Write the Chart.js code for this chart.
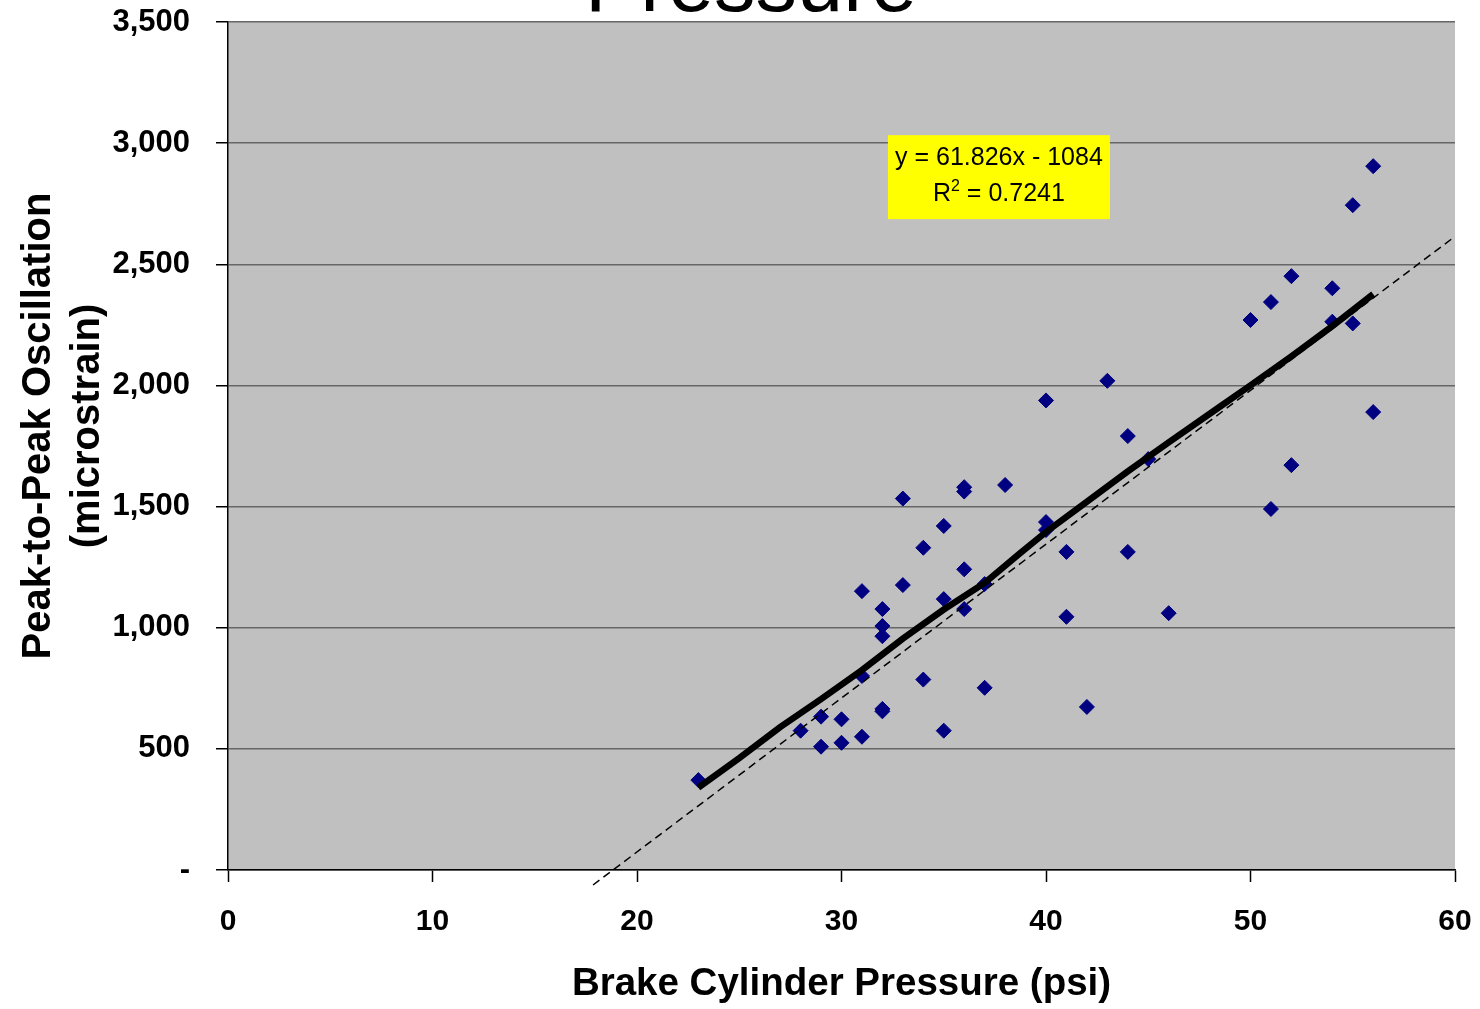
<!DOCTYPE html>
<html>
<head>
<meta charset="utf-8">
<script src="https://cdn.jsdelivr.net/npm/chart.js@4.4.1/dist/chart.umd.min.js"></script>
<style>
html, body { margin: 0; padding: 0; background: #fff; }
#wrap { width: 1480px; height: 1009px; }
</style>
</head>
<body>
<div id="wrap"><canvas id="chart"></canvas></div>
<script>
// brake cylinder pressure (psi) vs peak-to-peak oscillation (microstrain)
var pressure = [23, 28, 29, 29, 30, 30, 31, 31, 31, 32, 32, 32, 32, 32,
  33, 33, 34, 34, 35, 35, 35, 36, 36, 36, 36, 37, 37, 38, 40, 40, 40,
  41, 41, 42, 43, 44, 44, 45, 46, 50, 51, 51, 52, 52, 54, 54, 55, 55, 56, 56];
var oscillation = [371, 575, 633, 509, 622, 525, 1151, 801, 550, 1077, 1007, 965, 665, 655,
  1533, 1176, 1330, 786, 1420, 1118, 575, 1580, 1562, 1241, 1077, 1180, 752, 1589, 1938, 1436, 1403,
  1313, 1045, 673, 2019, 1791, 1313, 1696, 1060, 2270, 2344, 1490, 2451, 1671, 2401, 2263, 2744, 2256, 2905, 1890];

// thick black fitted curve
var fitX = [23, 25, 27, 29, 31, 33, 35, 37, 38.7, 40, 41.66, 44, 46, 48.5, 50, 52, 54, 56];
var fitY = [340, 462, 590, 705, 825, 955, 1075, 1185, 1305, 1395, 1499, 1645, 1765, 1912, 2000, 2120, 2245, 2377];

// dashed linear trendline
var trendX = [17.85, 60];
var trendY = [-62, 2615];

var xTicks = [0, 10, 20, 30, 40, 50, 60];
var yTicks = [0, 500, 1000, 1500, 2000, 2500, 3000, 3500];
var yTickLabels = ['-', '500', '1,000', '1,500', '2,000', '2,500', '3,000', '3,500'];

var FONT = '"Liberation Sans", Arial, sans-serif';

function toPoints(xs, ys) {
  var pts = [];
  for (var i = 0; i < xs.length; i++) {
    pts.push({ x: xs[i], y: ys[i] });
  }
  return pts;
}

var plotBackground = {
  id: 'plotBackground',
  beforeDraw: function(chart) {
    var a = chart.chartArea;
    var ctx = chart.ctx;
    ctx.save();
    ctx.fillStyle = '#C0C0C0';
    ctx.fillRect(a.left, a.top, a.right - a.left, a.bottom - a.top);
    ctx.restore();
  }
};

var extraText = {
  id: 'extraText',
  afterDraw: function(chart) {
    var ctx = chart.ctx;
    var xs = chart.scales.x, ys = chart.scales.y;
    ctx.save();

    // title, mostly cut off at the top
    ctx.fillStyle = '#000';
    ctx.font = '83px ' + FONT;
    ctx.textAlign = 'center';
    ctx.textBaseline = 'alphabetic';
    ctx.fillText('Pressure', 751, 11);

    // y axis title, two lines
    ctx.font = 'bold 40px ' + FONT;
    ctx.save();
    ctx.translate(50, 426);
    ctx.rotate(-Math.PI / 2);
    ctx.fillText('Peak-to-Peak Oscillation', 0, 0);
    ctx.restore();
    ctx.save();
    ctx.translate(98.5, 426);
    ctx.rotate(-Math.PI / 2);
    ctx.fillText('(microstrain)', 0, 0);
    ctx.restore();

    // trendline equation box
    var bx = xs.getPixelForValue(32.27), by = ys.getPixelForValue(3033);
    var bw = 222, bh = 84;
    ctx.fillStyle = '#FFFF00';
    ctx.fillRect(bx, by, bw, bh);
    ctx.fillStyle = '#000';
    ctx.font = '25px ' + FONT;
    ctx.textAlign = 'center';
    ctx.fillText('y = 61.826x - 1084', bx + bw / 2, by + 30);

    var rest = ' = ' + '0.7241';
    var wR = ctx.measureText('R').width;
    ctx.font = '16px ' + FONT;
    var w2 = ctx.measureText('2').width;
    ctx.font = '25px ' + FONT;
    var wRest = ctx.measureText(rest).width;
    var sx = bx + bw / 2 - (wR + w2 + wRest) / 2;
    ctx.textAlign = 'left';
    ctx.fillText('R', sx, by + 66);
    ctx.font = '16px ' + FONT;
    ctx.fillText('2', sx + wR, by + 56);
    ctx.font = '25px ' + FONT;
    ctx.fillText(rest, sx + wR + w2, by + 66);

    ctx.restore();
  }
};

var ctx = document.getElementById('chart').getContext('2d');
new Chart(ctx, {
  type: 'scatter',
  data: {
    datasets: [
      {
        label: 'fit',
        data: toPoints(fitX, fitY),
        showLine: true,
        borderColor: '#000',
        borderWidth: 6.5,
        pointRadius: 0,
        tension: 0,
        order: 0
      },
      {
        label: 'trend',
        data: toPoints(trendX, trendY),
        showLine: true,
        borderColor: '#000',
        borderWidth: 1.5,
        borderDash: [8, 5],
        pointRadius: 0,
        clip: false,
        order: 1
      },
      {
        label: 'measured',
        data: toPoints(pressure, oscillation),
        pointStyle: 'rectRot',
        pointRadius: 7.5,
        backgroundColor: '#000080',
        borderColor: '#000080',
        borderWidth: 1,
        order: 2
      }
    ]
  },
  options: {
    responsive: true,
    maintainAspectRatio: false,
    animation: false,
    layout: { padding: { top: 22, right: 25, left: 0, bottom: 0 } },
    plugins: {
      legend: { display: false },
      tooltip: { enabled: false }
    },
    scales: {
      x: {
        type: 'linear',
        min: 0,
        max: 60,
        afterBuildTicks: function(scale) {
          scale.ticks = xTicks.map(function(v) { return { value: v }; });
        },
        afterFit: function(scale) {
          scale.height = 139;
          scale.paddingLeft = 0;
          scale.paddingRight = 0;
        },
        border: { color: '#000', width: 1.5 },
        grid: { drawOnChartArea: false, drawTicks: true, tickLength: 12, tickColor: '#000', tickWidth: 1.5 },
        ticks: {
          padding: 22,
          color: '#000',
          font: { family: FONT, size: 30, weight: 'bold' }
        },
        title: {
          display: true,
          text: 'Brake Cylinder Pressure (psi)',
          color: '#000',
          font: { family: FONT, size: 38.5, weight: 'bold' },
          padding: { top: 0, bottom: 2 }
        }
      },
      y: {
        type: 'linear',
        min: 0,
        max: 3500,
        afterBuildTicks: function(scale) {
          scale.ticks = yTicks.map(function(v) { return { value: v }; });
        },
        afterFit: function(scale) {
          scale.width = 228;
          scale.paddingTop = 0;
          scale.paddingBottom = 0;
        },
        border: { color: '#000', width: 1.5 },
        grid: { color: '#666', lineWidth: 1.5, tickLength: 12, tickColor: '#000', tickWidth: 1.5 },
        ticks: {
          padding: 26,
          color: '#000',
          font: { family: FONT, size: 31, weight: 'bold' },
          callback: function(value, index) { return yTickLabels[index]; }
        }
      }
    }
  },
  plugins: [plotBackground, extraText]
});
</script>
</body>
</html>
